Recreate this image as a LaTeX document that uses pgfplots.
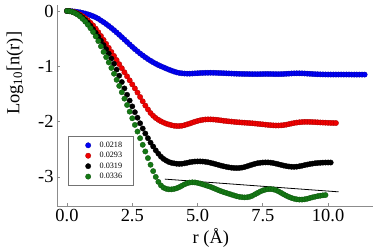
\documentclass[border=0pt]{standalone}
\usepackage{pgfplots}
\pgfplotsset{compat=1.18}
\usepackage{fontspec}
\setmainfont{Liberation Serif}
\definecolor{cblue}{RGB}{0,0,245}
\definecolor{cred}{RGB}{240,0,0}
\definecolor{cgreen}{RGB}{20,120,20}
\begin{document}
\begin{tikzpicture}
\path[use as bounding box] (-57bp,-45bp) rectangle (333bp,206bp);
\begin{axis}[
  at={(0,0)}, anchor=south west,
  scale only axis, width=316bp, height=201bp,
  xmin=-0.383, xmax=11.72, ymin=-3.526, ymax=0.108,
  axis x line*=bottom, axis y line*=left,
  axis line style={black!45, line width=0.8bp, -},
  every tick/.style={black!45, line width=0.8bp},
  tick align=inside, major tick length=3bp,
  xtick={0,2.5,5,7.5,10}, xticklabels={0.0,2.5,5.0,7.5,10.0},
  ytick={0,-1,-2,-3}, yticklabels={0,-1,-2,-3},
  tick label style={font=\fontsize{18.5}{20}\selectfont},
  xlabel={r (Å)}, ylabel={Log\textsubscript{10}[n(r)]},
  label style={font=\fontsize{18.5}{20}\selectfont},
  xlabel style={at={(axis description cs:0.487,-0.159)}, anchor=center},
  ylabel style={at={(axis description cs:-0.133,0.66)}, anchor=center, rotate=0},
  legend image code/.code={\path[draw=none,fill=none] (0bp,-2.8bp) rectangle (16bp,2.8bp); \draw[#1] plot coordinates {(8.5bp,0bp)};},
  legend style={at={(axis description cs:0.036,0.348)}, anchor=north west,
    draw=black!55, line width=0.6bp, font=\fontsize{8.2}{9}\selectfont,
    inner xsep=11bp, inner ysep=5bp, row sep=2.5bp, column sep=3.5bp,
    nodes={inner sep=0.5bp}, cells={anchor=west}},
  clip=false,
]
\addplot[only marks, mark=*, mark size=2.7bp, mark options={fill=cblue, draw=cblue!70!black, line width=0.3bp}] table {
0.0 0
0.1 -0.002
0.2 -0.005
0.3 -0.010
0.4 -0.017
0.5 -0.025
0.6 -0.035
0.7 -0.047
0.8 -0.061
0.9 -0.077
1.0 -0.095
1.1 -0.116
1.2 -0.140
1.3 -0.172
1.4 -0.203
1.5 -0.236
1.6 -0.271
1.7 -0.308
1.8 -0.347
1.9 -0.388
2.0 -0.430
2.1 -0.473
2.2 -0.517
2.3 -0.561
2.4 -0.605
2.5 -0.648
2.6 -0.690
2.7 -0.730
2.8 -0.768
2.9 -0.804
3.0 -0.838
3.1 -0.870
3.2 -0.900
3.3 -0.928
3.4 -0.954
3.5 -0.978
3.6 -1.000
3.7 -1.020
3.8 -1.040
3.9 -1.060
4.0 -1.078
4.1 -1.095
4.2 -1.110
4.3 -1.120
4.4 -1.127
4.5 -1.131
4.6 -1.133
4.7 -1.133
4.8 -1.131
4.9 -1.128
5.0 -1.125
5.1 -1.122
5.2 -1.120
5.3 -1.118
5.4 -1.117
5.5 -1.117
5.6 -1.118
5.7 -1.119
5.8 -1.121
5.9 -1.123
6.0 -1.125
6.1 -1.127
6.2 -1.129
6.3 -1.131
6.4 -1.133
6.5 -1.135
6.6 -1.137
6.7 -1.138
6.8 -1.139
6.9 -1.140
7.0 -1.141
7.1 -1.142
7.2 -1.142
7.3 -1.142
7.4 -1.141
7.5 -1.140
7.6 -1.139
7.7 -1.139
7.8 -1.140
7.9 -1.141
8.0 -1.142
8.1 -1.142
8.2 -1.141
8.3 -1.139
8.4 -1.136
8.5 -1.133
8.6 -1.130
8.7 -1.128
8.8 -1.127
8.9 -1.127
9.0 -1.128
9.1 -1.130
9.2 -1.133
9.3 -1.136
9.4 -1.139
9.5 -1.142
9.6 -1.144
9.7 -1.146
9.8 -1.147
9.9 -1.148
10.0 -1.149
10.1 -1.149
10.2 -1.149
10.3 -1.149
10.4 -1.149
10.5 -1.149
10.6 -1.149
10.7 -1.149
10.8 -1.149
10.9 -1.150
11.0 -1.150
11.1 -1.150
11.2 -1.150
11.3 -1.150
11.4 -1.150
};
\addlegendentry{0.0218\hspace{3bp}}
\addplot[only marks, mark=*, mark size=2.7bp, mark options={fill=cred, draw=cred!70!black, line width=0.3bp}] table {
0.0 0
0.1 -0.003
0.2 -0.011
0.3 -0.024
0.4 -0.043
0.5 -0.067
0.6 -0.096
0.7 -0.130
0.8 -0.169
0.9 -0.213
1.0 -0.262
1.1 -0.320
1.2 -0.385
1.3 -0.452
1.4 -0.522
1.5 -0.594
1.6 -0.667
1.7 -0.740
1.8 -0.813
1.9 -0.887
2.0 -0.962
2.1 -1.035
2.2 -1.108
2.3 -1.181
2.4 -1.254
2.5 -1.327
2.6 -1.400
2.7 -1.475
2.8 -1.555
2.9 -1.633
3.0 -1.710
3.1 -1.780
3.2 -1.845
3.3 -1.895
3.4 -1.935
3.5 -1.968
3.6 -1.995
3.7 -2.018
3.8 -2.037
3.9 -2.052
4.0 -2.065
4.1 -2.075
4.2 -2.080
4.3 -2.080
4.4 -2.075
4.5 -2.065
4.6 -2.050
4.7 -2.035
4.8 -2.018
4.9 -2.002
5.0 -1.988
5.1 -1.977
5.2 -1.968
5.3 -1.962
5.4 -1.960
5.5 -1.960
5.6 -1.962
5.7 -1.966
5.8 -1.972
5.9 -1.978
6.0 -1.985
6.1 -1.990
6.2 -1.996
6.3 -2.000
6.4 -2.005
6.5 -2.010
6.6 -2.013
6.7 -2.017
6.8 -2.020
6.9 -2.023
7.0 -2.027
7.1 -2.030
7.2 -2.035
7.3 -2.040
7.4 -2.045
7.5 -2.050
7.6 -2.055
7.7 -2.060
7.8 -2.065
7.9 -2.068
8.0 -2.070
8.1 -2.070
8.2 -2.068
8.3 -2.063
8.4 -2.055
8.5 -2.045
8.6 -2.035
8.7 -2.025
8.8 -2.018
8.9 -2.012
9.0 -2.008
9.1 -2.005
9.2 -2.005
9.3 -2.006
9.4 -2.008
9.5 -2.010
9.6 -2.013
9.7 -2.016
9.8 -2.018
9.9 -2.020
10.0 -2.022
10.1 -2.024
10.2 -2.025
10.3 -2.026
};
\addlegendentry{0.0293}
\addplot[only marks, mark=*, mark size=2.7bp, mark options={fill=black, draw=black, line width=0.3bp}] table {
0.0 0
0.1 -0.004
0.2 -0.014
0.3 -0.031
0.4 -0.055
0.5 -0.085
0.6 -0.122
0.7 -0.165
0.8 -0.214
0.9 -0.269
1.0 -0.330
1.1 -0.395
1.2 -0.465
1.3 -0.538
1.4 -0.615
1.5 -0.690
1.6 -0.770
1.7 -0.860
1.8 -0.955
1.9 -1.060
2.0 -1.170
2.1 -1.285
2.2 -1.400
2.3 -1.515
2.4 -1.620
2.5 -1.725
2.6 -1.830
2.7 -1.930
2.8 -2.030
2.9 -2.125
3.0 -2.215
3.1 -2.300
3.2 -2.380
3.3 -2.450
3.4 -2.520
3.5 -2.580
3.6 -2.635
3.7 -2.675
3.8 -2.705
3.9 -2.730
4.0 -2.745
4.1 -2.755
4.2 -2.762
4.3 -2.765
4.4 -2.762
4.5 -2.755
4.6 -2.745
4.7 -2.735
4.8 -2.727
4.9 -2.722
5.0 -2.720
5.1 -2.720
5.2 -2.722
5.3 -2.727
5.4 -2.735
5.5 -2.745
5.6 -2.757
5.7 -2.770
5.8 -2.783
5.9 -2.796
6.0 -2.808
6.1 -2.818
6.2 -2.827
6.3 -2.834
6.4 -2.838
6.5 -2.840
6.6 -2.838
6.7 -2.832
6.8 -2.822
6.9 -2.808
7.0 -2.792
7.1 -2.777
7.2 -2.763
7.3 -2.752
7.4 -2.745
7.5 -2.740
7.6 -2.738
7.7 -2.738
7.8 -2.742
7.9 -2.750
8.0 -2.760
8.1 -2.772
8.2 -2.783
8.3 -2.795
8.4 -2.805
8.5 -2.812
8.6 -2.817
8.7 -2.818
8.8 -2.815
8.9 -2.808
9.0 -2.798
9.1 -2.787
9.2 -2.777
9.3 -2.768
9.4 -2.760
9.5 -2.753
9.6 -2.748
9.7 -2.745
9.8 -2.742
9.9 -2.740
10.0 -2.740
10.1 -2.740
};
\addlegendentry{0.0319}
\addplot[only marks, mark=*, mark size=2.7bp, mark options={fill=cgreen, draw=cgreen!70!black, line width=0.3bp}] table {
0.0 0
0.1 -0.004
0.2 -0.016
0.3 -0.036
0.4 -0.064
0.5 -0.100
0.6 -0.143
0.7 -0.193
0.8 -0.249
0.9 -0.312
1.0 -0.380
1.1 -0.460
1.2 -0.545
1.3 -0.640
1.4 -0.740
1.5 -0.835
1.6 -0.930
1.7 -1.030
1.8 -1.135
1.9 -1.245
2.0 -1.355
2.1 -1.470
2.2 -1.585
2.3 -1.700
2.4 -1.820
2.5 -1.940
2.6 -2.060
2.7 -2.180
2.8 -2.300
2.9 -2.420
3.0 -2.540
3.1 -2.660
3.2 -2.780
3.3 -2.895
3.4 -3.000
3.5 -3.090
3.6 -3.155
3.7 -3.195
3.8 -3.215
3.9 -3.225
4.0 -3.225
4.1 -3.218
4.2 -3.205
4.3 -3.185
4.4 -3.160
4.5 -3.135
4.6 -3.115
4.7 -3.102
4.8 -3.098
4.9 -3.100
5.0 -3.108
5.1 -3.120
5.2 -3.135
5.3 -3.150
5.4 -3.165
5.5 -3.180
5.6 -3.200
5.7 -3.220
5.8 -3.240
5.9 -3.258
6.0 -3.275
6.1 -3.290
6.2 -3.305
6.3 -3.320
6.4 -3.335
6.5 -3.350
6.6 -3.360
6.7 -3.367
6.8 -3.370
6.9 -3.368
7.0 -3.358
7.1 -3.340
7.2 -3.315
7.3 -3.290
7.4 -3.265
7.5 -3.245
7.6 -3.230
7.7 -3.222
7.8 -3.220
7.9 -3.226
8.0 -3.240
8.1 -3.262
8.2 -3.288
8.3 -3.315
8.4 -3.340
8.5 -3.362
8.6 -3.380
8.7 -3.395
8.8 -3.405
8.9 -3.410
9.0 -3.410
9.1 -3.405
9.2 -3.395
9.3 -3.382
9.4 -3.370
9.5 -3.358
9.6 -3.348
9.7 -3.340
9.8 -3.333
9.9 -3.328
};
\addlegendentry{0.0336}
\addplot[black, line width=0.8bp, forget plot] coordinates {(3.75,-3.04) (10.4,-3.27)};
\end{axis}
\end{tikzpicture}
\end{document}
